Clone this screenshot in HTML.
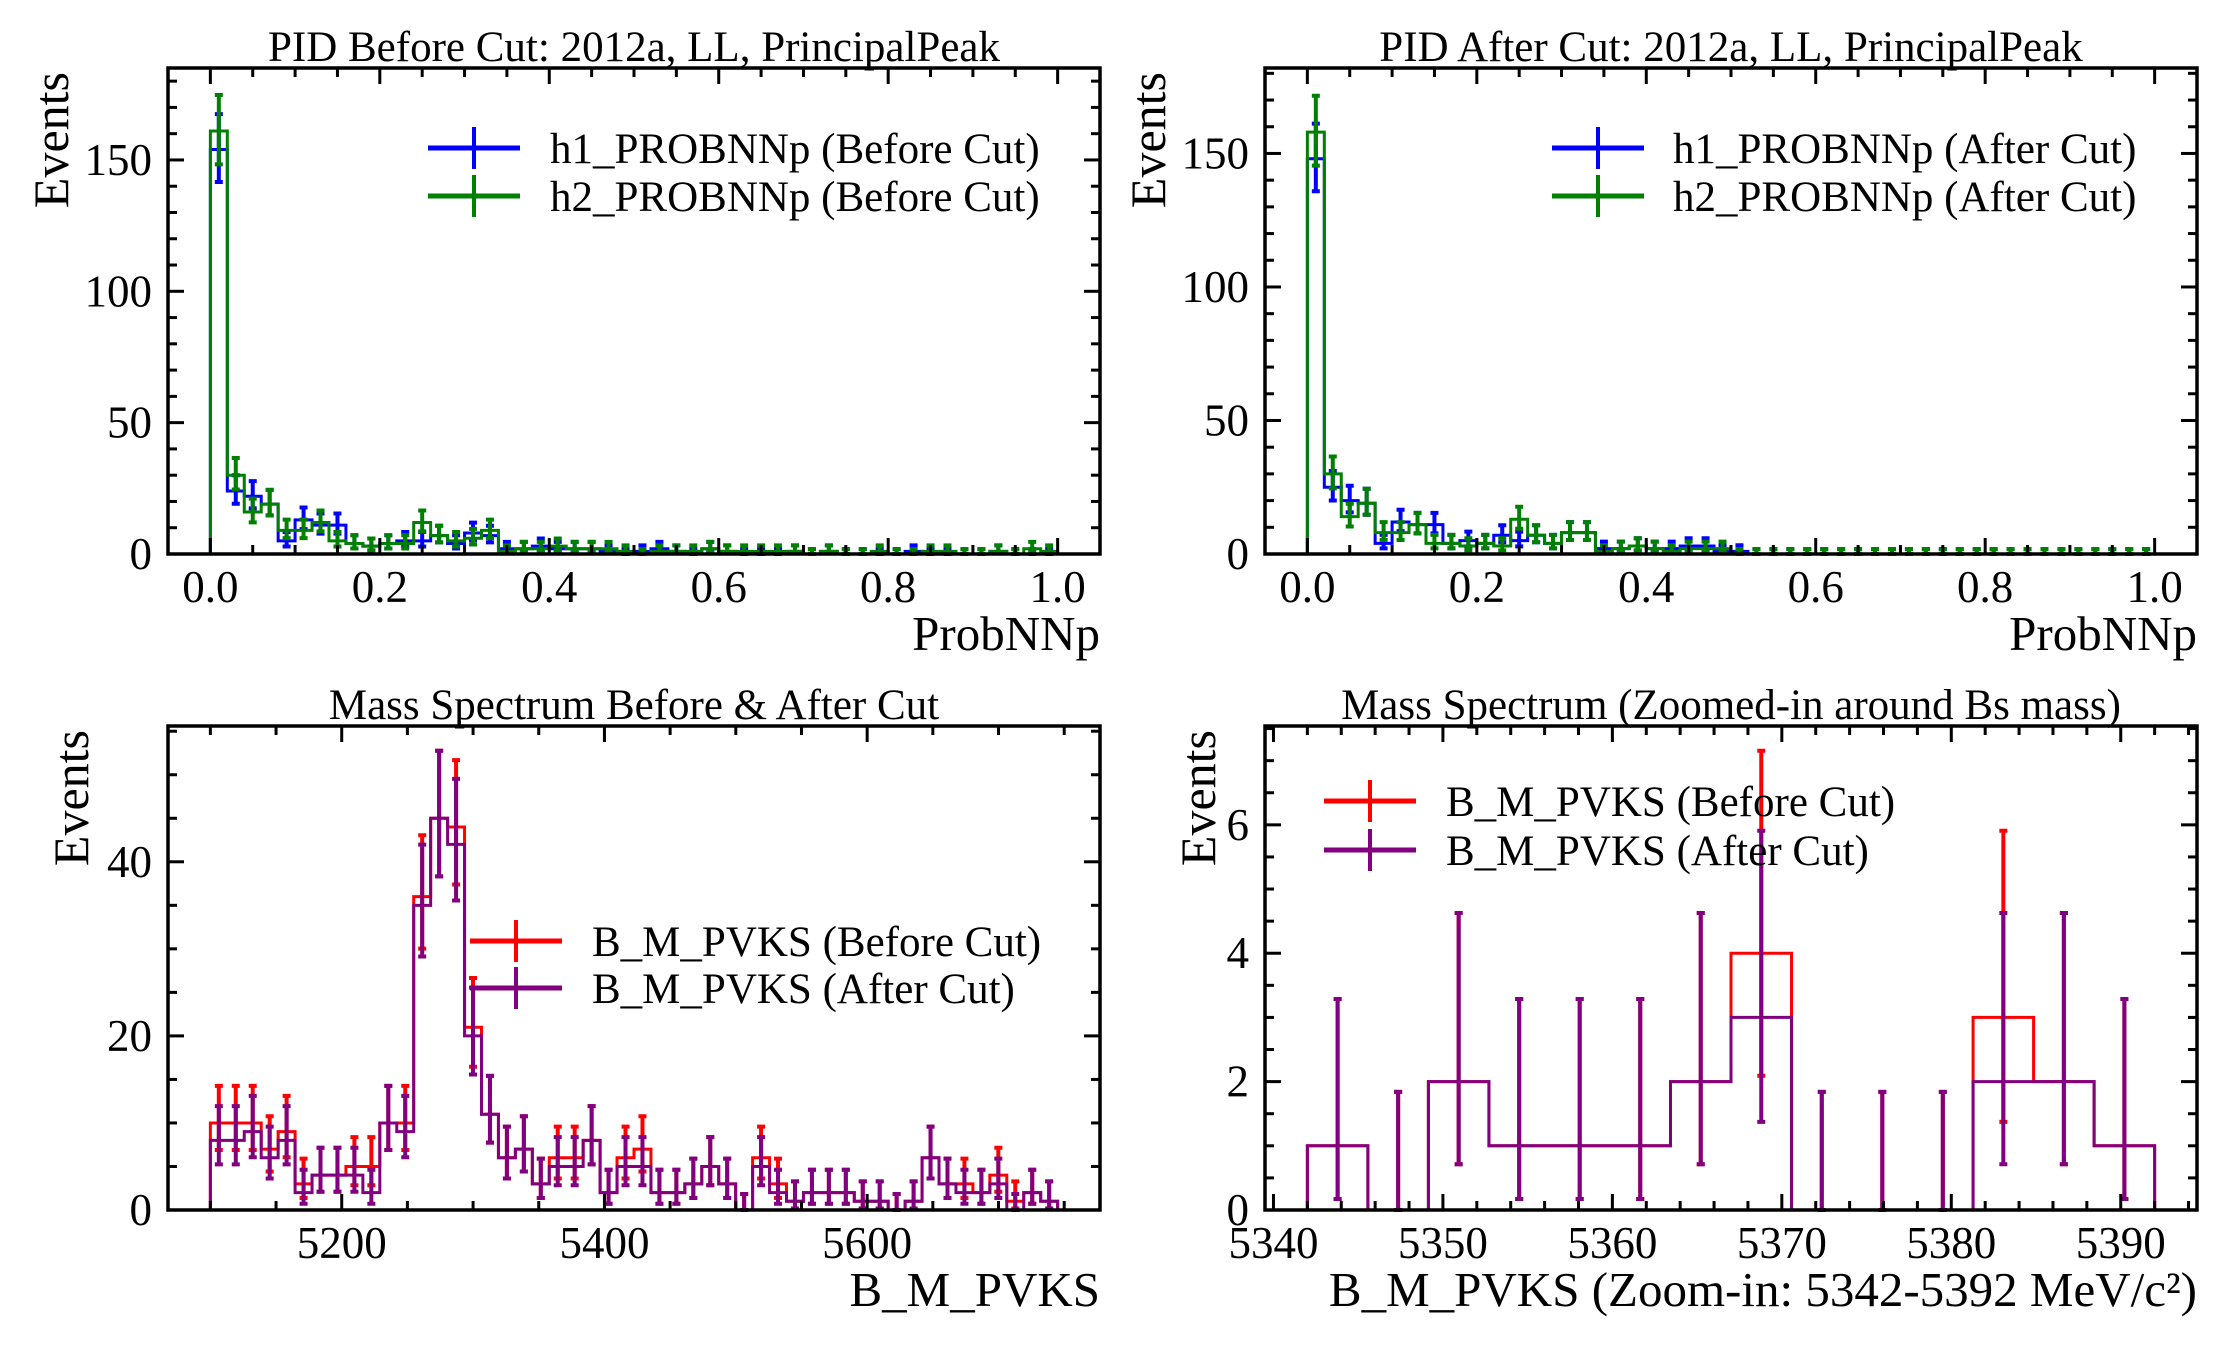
<!DOCTYPE html>
<html><head><meta charset="utf-8"><style>
html,body{margin:0;padding:0;background:#fff;}
svg{display:block;font-family:"Liberation Serif","DejaVu Serif",serif;}
</style></head><body>
<svg id="fig" xmlns="http://www.w3.org/2000/svg" width="2232" height="1350" viewBox="0 0 2232 1350"></svg>
<script>
// ---- data ----
const pidEdgesMin = 0, pidEdgesMax = 1, pidBins = 50;
const tlBlue = [154,24,22,19,5,13,11,11,4,3,4,5,5,7,4,8,7,2,2,3,2,2,2,1,0,1,2,1,0,2,1,0,0,0,1,0,1,0,0,0,0,1,0,0,0,0,1,0,0,0];
const tlGreen = [161,30,16,19,9,9,12,5,4,3,4,4,12,7,5,6,9,1,2,2,3,2,2,2,1,0,1,1,1,2,1,1,1,1,1,0,1,0,0,1,0,0,1,1,0,0,1,0,2,1];
const trBlue = [148,25,20,19,4,12,11,11,4,5,4,7,5,7,4,8,8,2,2,3,2,2,3,3,1,1,0,0,0,0,0,0,0,0,0,0,0,0,0,0,0,0,0,0,0,0,0,0,0,0];
const trGreen = [158,30,14,19,8,8,11,4,4,3,4,3,13,7,4,8,8,1,2,3,2,1,2,2,2,0,0,0,0,0,0,0,0,0,0,0,0,0,0,0,0,0,0,0,0,0,0,0,0,0];
const massMin = 5100, massMax = 5745, massBins = 50;
const blRed = [10,10,10,7,9,3,4,4,5,5,10,10,36,45,44,21,11,6,7,3,6,6,8,2,6,7,2,2,3,5,3,0,6,3,1,2,2,2,1,1,0,1,6,3,3,2,4,1,2,1];
const blPurple = [8,8,9,6,8,2,4,4,4,2,10,9,35,45,42,20,11,6,7,3,5,5,8,2,5,5,2,2,3,5,3,0,5,2,1,2,2,2,1,1,0,1,6,3,2,2,3,0,2,1];
const zoomMin = 5342, zoomMax = 5392, zoomBins = 14;
const brRed = [1,0,2,1,1,1,2,4,0,0,0,3,2,1];
const brPurple = [1,0,2,1,1,1,2,3,0,0,0,2,2,1];
const pidXTicks = [0,0.2,0.4,0.6,0.8,1.0];
const pidXTickLabels = ["0.0","0.2","0.4","0.6","0.8","1.0"];
const pidYTicks = [0,50,100,150];
const massXTicks = [5200,5400,5600];
const massYTicks = [0,20,40];
const zoomXTicks = [5340,5350,5360,5370,5380,5390];
const zoomYTicks = [0,2,4,6];

const NS = "http://www.w3.org/2000/svg";
const svg = document.getElementById('fig');
function mk(tag, attrs, parent){
  const e = document.createElementNS(NS, tag);
  for (const k in attrs) e.setAttribute(k, attrs[k]);
  (parent||svg).appendChild(e);
  return e;
}
function garwood(n){
  if (n <= 0) return [0, 1.841];
  const lo = n*Math.pow(1-1/(9*n)-1/(3*Math.sqrt(n)),3);
  const m = n+1;
  const hi = m*Math.pow(1-1/(9*m)+1/(3*Math.sqrt(m)),3);
  return [lo, hi];
}
const TICKFS = 45, AXFS = 49, TITLEFS = 43, LEGFS = 43;

function panel(cfg){
  const g = mk('g', {});
  
  
  const L=cfg.box[0], T=cfg.box[1], R=cfg.box[2], B=cfg.box[3];
  const sx = v => L + (v-cfg.xlim[0])/(cfg.xlim[1]-cfg.xlim[0])*(R-L);
  const sy = v => B - (v-cfg.ylim[0])/(cfg.ylim[1]-cfg.ylim[0])*(B-T);
  cfg.series.forEach(s => {
    const n = s.values.length, w = (s.max-s.min)/n;
    let d = 'M'+sx(s.min)+','+sy(0);
    s.values.forEach((v,i)=>{
      d += ' L'+sx(s.min+i*w)+','+sy(v)+' L'+sx(s.min+(i+1)*w)+','+sy(v);
    });
    d += ' L'+sx(s.max)+','+sy(0);
    const sg = mk('g', {}, g);
    
    
    const p = mk('path', {d:d, fill:'none', stroke:s.color, 'stroke-width':3}, sg);
    
    
    s.values.forEach((v,i)=>{
      const c = s.min+(i+0.5)*w;
      const [lo,hi] = garwood(v);
      const x = sx(c), y1 = sy(lo), y2 = sy(hi);
      const eb = mk('path', {d:'M'+x+','+y1+' L'+x+','+y2+' M'+(x-4)+','+y1+' L'+(x+4)+','+y1+' M'+(x-4)+','+y2+' L'+(x+4)+','+y2, stroke:s.color, 'stroke-width':4, fill:'none'}, sg);
      
      
    });
  });
  const tk = mk('g', {stroke:'#000','stroke-width':3}, g);
  
  
  for (let v = cfg.xminor[0]; v <= cfg.xlim[1]+1e-9; v += cfg.xminor[1]){
    if (v < cfg.xlim[0]) continue;
    const major = cfg.xticks.some(t=>Math.abs(t-v)<1e-6);
    const len = major?16:9, x = sx(v);
    mk('line',{x1:x,y1:B,x2:x,y2:B-len},tk); mk('line',{x1:x,y1:T,x2:x,y2:T+len},tk);
  }
  for (let v = cfg.ylim[0]; v <= cfg.ylim[1]+1e-9; v += cfg.yminor){
    const major = cfg.yticks.some(t=>Math.abs(t-v)<1e-6);
    const len = major?16:9, y = sy(v);
    mk('line',{x1:L,y1:y,x2:L+len,y2:y},tk); mk('line',{x1:R,y1:y,x2:R-len,y2:y},tk);
  }
  const fr = mk('rect',{x:L,y:T,width:R-L,height:B-T,fill:'none',stroke:'#000','stroke-width':3.5},g);
  
  
  cfg.xticks.forEach((v,i)=>{
    const t = mk('text',{x:sx(v),y:B+48,'font-size':TICKFS,'text-anchor':'middle'},g);
    t.textContent = cfg.xlabels ? cfg.xlabels[i] : String(v);
    
    
  });
  cfg.yticks.forEach(v=>{
    const t = mk('text',{x:L-16,y:sy(v)+15,'font-size':TICKFS,'text-anchor':'end'},g);
    t.textContent = String(v);
    
    
  });
  const ti = mk('text',{x:(L+R)/2,y:T-7,'font-size':TITLEFS,'text-anchor':'middle'},g);
  ti.textContent = cfg.title;
  
  
  const xl = mk('text',{x:R,y:B+96,'font-size':AXFS,'text-anchor':'end'},g);
  xl.textContent = cfg.xtitle;
  
  
  const yl = mk('text',{x:0,y:0,'font-size':50,'text-anchor':'end',transform:'translate('+cfg.ylabX+','+(T+4)+') rotate(-90)'},g);
  yl.textContent = 'Events';
  
  
  const lg = mk('g',{},g);
  
  
  cfg.series.forEach((s,i)=>{
    const y = cfg.leg.y[i], x0 = cfg.leg.x, x1 = cfg.leg.x+92, xc = (x0+x1)/2;
    const e = mk('g',{},lg);
    
    
    mk('line',{x1:x0,y1:y,x2:x1,y2:y,stroke:s.color,'stroke-width':5},e);
    mk('line',{x1:xc,y1:y-21,x2:xc,y2:y+21,stroke:s.color,'stroke-width':4},e);
    const t = mk('text',{x:cfg.leg.tx,y:y+15,'font-size':LEGFS},e);
    t.textContent = s.label;
  });
}

panel({name:'pid-before-cut-panel', box:[168,68,1100,554], xlim:[-0.05,1.05], ylim:[0,185],
  xticks:pidXTicks, xlabels:pidXTickLabels, xminor:[0,0.05], yticks:pidYTicks, yminor:10,
  title:'PID Before Cut: 2012a, LL, PrincipalPeak', xtitle:'ProbNNp', ylabX:68,
  leg:{x:428, tx:550, y:[148,196]},
  series:[{key:'h1-before',values:tlBlue,min:pidEdgesMin,max:pidEdgesMax,color:'#0000ff',label:'h1_PROBNNp (Before Cut)'},
          {key:'h2-before',values:tlGreen,min:pidEdgesMin,max:pidEdgesMax,color:'#008000',label:'h2_PROBNNp (Before Cut)'}]});
panel({name:'pid-after-cut-panel', box:[1265,68,2197,554], xlim:[-0.05,1.05], ylim:[0,182],
  xticks:pidXTicks, xlabels:pidXTickLabels, xminor:[0,0.05], yticks:pidYTicks, yminor:10,
  title:'PID After Cut: 2012a, LL, PrincipalPeak', xtitle:'ProbNNp', ylabX:1165,
  leg:{x:1552, tx:1673, y:[148,196]},
  series:[{key:'h1-after',values:trBlue,min:pidEdgesMin,max:pidEdgesMax,color:'#0000ff',label:'h1_PROBNNp (After Cut)'},
          {key:'h2-after',values:trGreen,min:pidEdgesMin,max:pidEdgesMax,color:'#008000',label:'h2_PROBNNp (After Cut)'}]});
panel({name:'mass-spectrum-panel', box:[168,726,1100,1210], xlim:[5067.75,5777.25], ylim:[0,55.6],
  xticks:massXTicks, xminor:[5100,50], yticks:massYTicks, yminor:5,
  title:'Mass Spectrum Before & After Cut', xtitle:'B_M_PVKS', ylabX:88,
  leg:{x:470, tx:592, y:[941,988]},
  series:[{key:'mass-before',values:blRed,min:massMin,max:massMax,color:'#ff0000',label:'B_M_PVKS (Before Cut)'},
          {key:'mass-after',values:blPurple,min:massMin,max:massMax,color:'#800080',label:'B_M_PVKS (After Cut)'}]});
panel({name:'mass-zoom-panel', box:[1265,726,2197,1210], xlim:[5339.5,5394.5], ylim:[0,7.54],
  xticks:zoomXTicks, xminor:[5340,2], yticks:zoomYTicks, yminor:0.5,
  title:'Mass Spectrum (Zoomed-in around Bs mass)', xtitle:'B_M_PVKS (Zoom-in: 5342-5392 MeV/c²)', ylabX:1215,
  leg:{x:1324, tx:1446, y:[801,850]},
  series:[{key:'zoom-before',values:brRed,min:zoomMin,max:zoomMax,color:'#ff0000',label:'B_M_PVKS (Before Cut)'},
          {key:'zoom-after',values:brPurple,min:zoomMin,max:zoomMax,color:'#800080',label:'B_M_PVKS (After Cut)'}]});
</script>
</body></html>
